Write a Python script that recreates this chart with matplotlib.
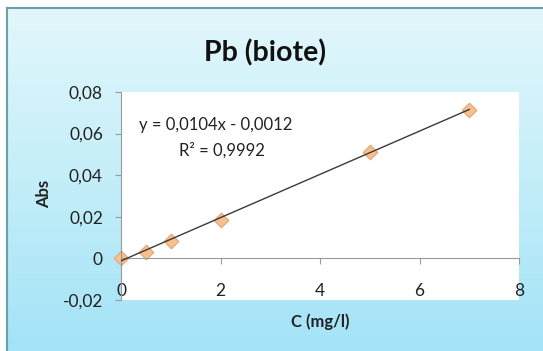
import numpy as np
import matplotlib
matplotlib.use("Agg")
import matplotlib.pyplot as plt
from matplotlib.ticker import FuncFormatter, MultipleLocator
from matplotlib.colors import LinearSegmentedColormap

conc = [0, 0.5, 1, 2, 5, 7]
absorb = [0.0, 0.0033, 0.0083, 0.0185, 0.051, 0.0712]
slope = 0.0104
intercept = -0.0012
r2 = 0.9992
title = "Pb (biote)"
xlabel = "C (mg/l)"
ylabel = "Abs"

W, H = 543, 351
fig = plt.figure(figsize=(W / 100, H / 100), dpi=100)
fig.patch.set_facecolor("white")
plt.rcParams["font.family"] = ["Lato", "DejaVu Sans"]

# background gradient box
bx0, by0 = 7 / W, 0
bg = fig.add_axes([bx0, by0, 1 - bx0, 1 - 8 / H])
cmap = LinearSegmentedColormap.from_list("bg", ["#e2f7fb", "#c4eef9", "#a3e3f7"])
grad = np.linspace(0, 1, 256).reshape(-1, 1)
bg.imshow(grad, aspect="auto", cmap=cmap, extent=[0, 1, 0, 1], origin="upper")
bg.set_xlim(0, 1); bg.set_ylim(0, 1)
bg.set_xticks([]); bg.set_yticks([])
for s in ["right", "bottom"]:
    bg.spines[s].set_visible(False)
for s in ["left", "top"]:
    bg.spines[s].set_color("#6e9ea6")
    bg.spines[s].set_linewidth(1.5)

# plot area
px0, px1 = 121, 519
py0, py1 = 92, 300
ax = fig.add_axes([px0 / W, 1 - py1 / H, (px1 - px0) / W, (py1 - py0) / H])
ax.set_facecolor("white")
ax.set_xlim(0, 8)
ax.set_ylim(-0.02, 0.08)

xs = np.array([min(conc), max(conc)])
ax.plot(xs, slope * xs + intercept, color="#3a3a3a", lw=1.0, zorder=3)
ax.scatter(conc, absorb, marker="D", s=55, facecolor="#f7c08e", edgecolor="#e3a570",
           linewidth=0.8, zorder=2, clip_on=False)

for s in ["top", "right"]:
    ax.spines[s].set_visible(False)
ax.spines["left"].set_color("#9a9a9a")
ax.spines["bottom"].set_color("#9a9a9a")
ax.spines["bottom"].set_position(("data", 0))
ax.spines["left"].set_linewidth(0.8)
ax.spines["bottom"].set_linewidth(0.8)

ax.xaxis.set_major_locator(MultipleLocator(2))
ax.yaxis.set_major_locator(MultipleLocator(0.02))
fmt = lambda v, p: ("0" if abs(v) < 1e-12 else f"{v:.2f}".replace(".", ","))
ax.yaxis.set_major_formatter(FuncFormatter(fmt))
ax.xaxis.set_major_formatter(FuncFormatter(lambda v, p: f"{v:g}"))
ax.tick_params(axis="y", direction="out", length=4, color="#9a9a9a", labelsize=12.5,
               labelcolor="#222222", pad=9)
ax.tick_params(axis="x", direction="out", length=4, color="#9a9a9a", labelsize=12.5,
               labelcolor="#222222", pad=14)

fig.text(265 / W, 1 - 53 / H, title, ha="center", va="center", fontsize=20.5,
         fontweight="bold", color="#111111")
fig.text(320 / W, 1 - 322 / H, xlabel, ha="center", va="center", fontsize=12,
         fontweight="bold", color="#222222")
fig.text(44 / W, 1 - 194 / H, ylabel, ha="center", va="center", fontsize=12,
         fontweight="bold", color="#222222", rotation=90)

eq = f"y = {slope:.4f}x - {abs(intercept):.4f}".replace(".", ",")
fig.text(216 / W, 1 - 125 / H, eq, ha="center", va="center", fontsize=12, color="#222222")
fig.text(222 / W, 1 - 150 / H, f"R\u00b2 = {r2:.4f}".replace(".", ","), ha="center",
         va="center", fontsize=12, color="#222222")

fig.savefig("out.png", dpi=100, facecolor="white")
